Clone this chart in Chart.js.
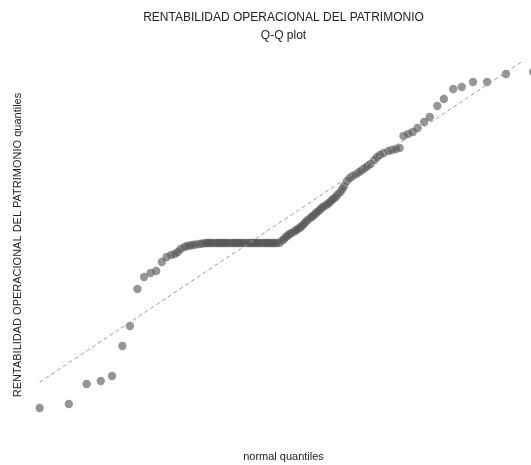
<!DOCTYPE html>
<html>
<head>
<meta charset="utf-8">
<title>Q-Q plot</title>
<script src="https://cdn.jsdelivr.net/npm/chart.js@4.4.1/dist/chart.umd.min.js"></script>
<style>
    html, body { margin: 0; padding: 0; background: #fff; }
    #qq-wrap { width: 531px; height: 465px; }
</style>
</head>
<body>
<div id="qq-wrap"><canvas id="qq-Chart" width="531" height="465"></canvas></div>
<script>
// normal (theoretical) quantiles, sorted
const normalQuantiles = [
    -2.61, -2.30, -2.11, -1.96, -1.84, -1.73, -1.65, -1.57, -1.50, -1.43,
    -1.37, -1.31, -1.26, -1.21, -1.17, -1.14, -1.11, -1.07, -1.04, -1.01,
    -0.98, -0.95, -0.91, -0.88, -0.85,
    -0.83, -0.81, -0.79, -0.77, -0.74, -0.72, -0.70, -0.68, -0.66, -0.64,
    -0.62, -0.60, -0.57, -0.55, -0.53, -0.51, -0.49, -0.47, -0.45, -0.43,
    -0.40, -0.38, -0.36, -0.34, -0.32, -0.30, -0.28, -0.26, -0.23, -0.21,
    -0.19, -0.17, -0.15, -0.13, -0.11, -0.09, -0.06,
    -0.03, -0.01, 0.01, 0.03, 0.05, 0.07, 0.10, 0.12, 0.14, 0.16,
    0.18, 0.20, 0.22, 0.24, 0.27, 0.29, 0.31, 0.33, 0.35, 0.37,
    0.39, 0.41, 0.44, 0.46, 0.48, 0.50, 0.52, 0.54, 0.56,
    0.59, 0.61, 0.63, 0.66, 0.69, 0.72, 0.76, 0.79, 0.82, 0.85,
    0.88, 0.91, 0.95, 0.98, 1.01, 1.05, 1.10, 1.14, 1.18, 1.22,
    1.26, 1.31, 1.36, 1.41, 1.48, 1.54, 1.62, 1.69, 1.79, 1.88,
    2.00, 2.15, 2.35, 2.64
];

// sample quantiles of the ratio, sorted
const sampleQuantiles = [
    -82.5, -80.5, -70.5, -69, -66.5, -51.5, -41.5, -23, -17, -15,
    -14, -9.5, -7, -6, -5.5, -4.5, -3, -2, -1.5, -1.25,
    -1, -0.75, -0.5, -0.25, -0.1,
    0, 0, 0, 0, 0, 0, 0, 0, 0, 0,
    0, 0, 0, 0, 0, 0, 0, 0, 0, 0,
    0, 0, 0, 0, 0, 0, 0, 0, 0, 0,
    0, 0, 0, 0, 0, 0, 0,
    1.25, 2, 3, 3.75, 4.5, 5, 5.75, 6.5, 7, 7.75,
    8.5, 9.5, 10.5, 11.5, 12.5, 13.25, 14, 15, 15.75, 16.5,
    17.5, 18.25, 19, 19.75, 20.5, 21.5, 22.25, 23, 24.25,
    25.5, 27, 28.5, 31, 32.5, 33.5, 34.5, 35.5, 36.5, 37.5,
    38.5, 39.5, 41.5, 43, 44, 45, 46, 46.5, 47, 47.5,
    53.5, 54.5, 55.5, 57.5, 60.5, 63, 68.5, 72, 77, 78,
    80.5, 80.5, 84.5, 85.5
];

// reference line ends
const refLineX = [-2.61, 2.52];
const refLineY = [-69.6, 90.7];

const chartTitle = 'RENTABILIDAD OPERACIONAL DEL PATRIMONIO';
const chartSubtitle = 'Q-Q plot';
const xTitle = 'normal quantiles';
const yTitle = 'RENTABILIDAD OPERACIONAL DEL PATRIMONIO quantiles';

function qq_chart(){
    const qqChart = document.getElementById('qq-Chart');
    const points = normalQuantiles.map((q, i) => ({x: q, y: sampleQuantiles[i]}));
    const refLine = refLineX.map((q, i) => ({x: q, y: refLineY[i]}));

    new Chart(qqChart, {
        type: 'scatter',
        data: {
            datasets: [{
                type: 'line',
                label: 'reference',
                data: refLine,
                borderColor: '#9a9a9a',
                borderWidth: 1,
                borderDash: [4, 3],
                pointRadius: 0,
                fill: false,
                order: 0
            },
            {
                label: 'quantiles',
                data: points,
                backgroundColor: 'rgba(85, 85, 85, 0.62)',
                borderWidth: 0,
                pointRadius: 4.2,
                clip: false,
                order: 1
            }]
        },
        options: {
            responsive: false,
            animation: false,
            layout: { padding: 0, autoPadding: false },
            plugins: {
                legend: { display: false },
                tooltip: { enabled: false },
                title: {
                    display: true,
                    text: chartTitle,
                    fullSize: false,
                    color: '#222',
                    font: { family: 'Liberation Sans, Arial, sans-serif', size: 12, weight: 'normal' },
                    padding: { top: 10, bottom: 4.5 }
                },
                subtitle: {
                    display: true,
                    text: chartSubtitle,
                    fullSize: false,
                    color: '#222',
                    font: { family: 'Liberation Sans, Arial, sans-serif', size: 12, weight: 'normal' },
                    padding: { top: 0, bottom: 11.7 }
                }
            },
            scales: {
                x: {
                    type: 'linear',
                    min: -2.649,
                    max: 2.617,
                    border: { display: false },
                    grid: { display: false, drawTicks: false },
                    ticks: { display: false },
                    title: {
                        display: true,
                        text: xTitle,
                        color: '#222',
                        font: { family: 'Liberation Sans, Arial, sans-serif', size: 11 },
                        padding: { top: 15.4, bottom: 1.4 }
                    }
                },
                y: {
                    type: 'linear',
                    min: -96,
                    max: 94,
                    border: { display: false },
                    grid: { display: false, drawTicks: false },
                    ticks: { display: false },
                    title: {
                        display: true,
                        text: yTitle,
                        color: '#222',
                        font: { family: 'Liberation Sans, Arial, sans-serif', size: 11 },
                        padding: { top: 11, bottom: 11.8 }
                    }
                }
            }
        }
    });
}qq_chart();
</script>
</body>
</html>
